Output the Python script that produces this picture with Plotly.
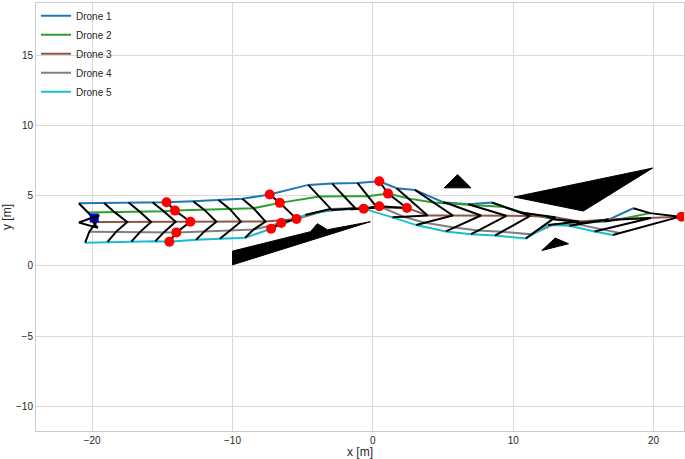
import plotly.graph_objects as go

# ---------------- data ----------------
drone_names = ["Drone 1", "Drone 2", "Drone 3", "Drone 4", "Drone 5"]
drone_colors = ["#1f77b4", "#2ca02c", "#8c564b", "#7f7f7f", "#17becf"]

# positions of each drone at the formation snapshots
d1_x = [-20.95, -19.15, -17.4, -15.7, -14.7, -12.8, -11.0, -9.3, -7.35, -4.6, -2.9, -1.1, 0.46, 1.7, 3.0, 5.0, 6.8, 8.5, 10.5, 12.4, 14.5, 16.5, 18.56]
d1_y = [4.45, 4.47, 4.5, 4.52, 4.53, 4.6, 4.68, 4.78, 5.07, 5.76, 5.85, 5.9, 6.02, 5.52, 5.4, 4.53, 4.38, 4.5, 3.8, 3.5, 3.05, 3.15, 4.1]
d2_x = [-20.3, -18.4, -16.6, -14.9, -14.1, -12.0, -10.2, -8.5, -6.63, -3.8, -2.05, -0.35, 1.08, 2.5, 4.3, 5.4, 7.0, 9.4, 10.8, 13.0, 15.3, 17.5, 19.75]
d2_y = [3.8, 3.82, 3.85, 3.88, 3.93, 3.98, 4.05, 4.1, 4.48, 4.93, 4.95, 4.96, 5.14, 4.8, 4.5, 4.42, 4.32, 4.18, 3.76, 3.3, 3.1, 3.3, 3.75]
d3_x = [-19.7, -17.5, -15.8, -14.05, -13.0, -11.15, -9.4, -7.65, -5.44, -3.0, -1.25, 0.3, 2.43, 3.9, 5.7, 7.7, 9.5, 11.2, 13.0, 14.7, 16.8, 19.8, 21.9]
d3_y = [3.12, 3.12, 3.12, 3.13, 3.14, 3.14, 3.14, 3.15, 3.34, 4.05, 4.1, 4.15, 4.12, 3.58, 3.58, 3.58, 3.56, 3.55, 3.45, 3.15, 3.3, 3.4, 3.5]
d4_x = [-20.2, -18.3, -16.6, -14.9, -14.0, -12.0, -10.2, -8.5, -6.53, -4.0, -2.2, -0.8, 0.46, 2.2, 3.7, 5.8, 7.5, 9.2, 11.3, 12.9, 14.6, 16.4, 17.6]
d4_y = [2.43, 2.42, 2.4, 2.38, 2.38, 2.45, 2.52, 2.58, 3.05, 3.81, 4.03, 4.07, 4.24, 3.49, 3.06, 2.72, 2.51, 2.43, 2.24, 2.95, 2.95, 2.58, 2.34]
d5_x = [-20.5, -18.9, -17.2, -15.5, -14.5, -12.6, -10.9, -9.1, -7.25, -4.8, -3.0, -1.6, -0.65, 1.4, 3.1, 5.2, 7.0, 8.7, 10.9, 12.5, 14.0, 15.8, 17.1]
d5_y = [1.65, 1.7, 1.72, 1.75, 1.71, 1.85, 1.93, 2.0, 2.64, 3.62, 3.98, 4.02, 4.07, 3.45, 2.9, 2.45, 2.25, 2.15, 1.95, 2.9, 2.85, 2.44, 2.2]

# snapshots where the formation was re-planned (red markers)
event_idx = [4, 8, 12]

# goal
goal_x = [22.0]
goal_y = [3.5]

# start marker
start_arrow_x = [-20.95, -19.5, -19.95, -19.6, -20.95]
start_arrow_y = [3.08, 3.6, 3.15, 2.7, 3.08]
start_box_x = [-19.85]
start_box_y = [3.4]

# obstacles (polygons)
obstacle1_x = [-10.0, -10.0, -4.45, -3.95, -3.24, -0.18]
obstacle1_y = [0.07, 1.05, 2.43, 3.0, 2.57, 3.14]
obstacle2_x = [5.09, 6.04, 6.99]
obstacle2_y = [5.55, 6.5, 5.55]
obstacle3_x = [10.07, 19.94, 15.0]
obstacle3_y = [4.9, 6.96, 3.9]
obstacle4_x = [12.04, 12.99, 13.94]
obstacle4_y = [1.09, 1.98, 1.57]

x_ticks = [-20, -10, 0, 10, 20]
y_ticks = [-10, -5, 0, 5, 10, 15]

# ---------------- figure ----------------
drones_x = [d1_x, d2_x, d3_x, d4_x, d5_x]
drones_y = [d1_y, d2_y, d3_y, d4_y, d5_y]

fig = go.Figure()

for ox, oy in [(obstacle1_x, obstacle1_y), (obstacle2_x, obstacle2_y),
               (obstacle3_x, obstacle3_y), (obstacle4_x, obstacle4_y)]:
    fig.add_trace(go.Scatter(x=ox + ox[:1], y=oy + oy[:1], mode="lines", fill="toself",
                             fillcolor="black", line=dict(color="black", width=1),
                             showlegend=False, hoverinfo="skip"))

for name, col, xs, ys in zip(drone_names, drone_colors, drones_x, drones_y):
    fig.add_trace(go.Scatter(x=xs, y=ys, mode="lines", name=name,
                             line=dict(color=col, width=2)))

# formation lines
fx, fy = [], []
for i in range(len(d3_x)):
    for k in range(5):
        fx.append(drones_x[k][i])
        fy.append(drones_y[k][i])
    fx.append(None)
    fy.append(None)
fig.add_trace(go.Scatter(x=fx, y=fy, mode="lines", line=dict(color="black", width=2),
                         showlegend=False, hoverinfo="skip"))

# events
ex, ey = [], []
for i in event_idx:
    for k in range(5):
        ex.append(drones_x[k][i])
        ey.append(drones_y[k][i])
fig.add_trace(go.Scatter(x=ex + goal_x, y=ey + goal_y, mode="markers",
                         marker=dict(color="red", size=10), showlegend=False,
                         cliponaxis=True))

fig.add_trace(go.Scatter(x=start_box_x, y=start_box_y, mode="markers",
                         marker=dict(color="blue", symbol="square", size=9),
                         showlegend=False))
fig.add_trace(go.Scatter(x=start_arrow_x, y=start_arrow_y, mode="lines",
                         line=dict(color="black", width=2), showlegend=False))

axis_common = dict(showgrid=True, gridcolor="#d9d9d9", gridwidth=1, zeroline=False,
                   showline=True, linecolor="#cccccc", linewidth=1, mirror=True,
                   ticks="", automargin=False)

fig.update_layout(
    width=685, height=459,
    margin=dict(l=36, r=1, t=3, b=28),
    paper_bgcolor="white", plot_bgcolor="white",
    font=dict(family="Liberation Sans, Arial, sans-serif", size=10, color="#262626"),
    legend=dict(x=0.0, y=1.004, xanchor="left", yanchor="top",
                bgcolor="rgba(0,0,0,0)", font=dict(size=10), tracegroupgap=0),
    xaxis=dict(range=[-24.0, 22.17], tickvals=x_ticks,
               title=dict(text="x [m]", standoff=2), **axis_common),
    yaxis=dict(range=[-11.75, 18.7], tickvals=y_ticks,
               title=dict(text="y [m]", standoff=4), **axis_common),
)

fig.write_html("out.html", config={"displayModeBar": False},
               post_script="document.body.style.margin='0';")
